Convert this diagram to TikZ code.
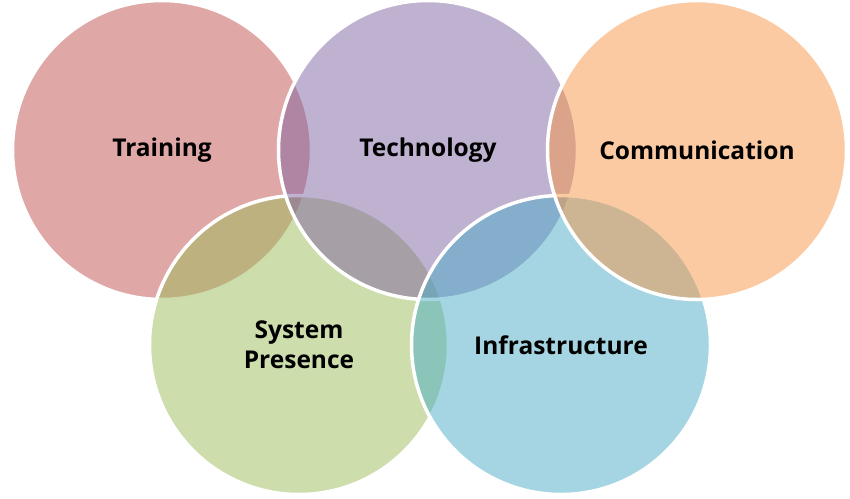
\documentclass[tikz,border=0pt]{standalone}
\usepackage{fontspec}
\setmainfont{Open Sans}
\usepackage{tikz}

\definecolor{trainred}{HTML}{C0504D}
\definecolor{techpurple}{HTML}{8064A2}
\definecolor{commorange}{HTML}{F79646}
\definecolor{sysgreen}{HTML}{9BBB59}
\definecolor{infraaqua}{HTML}{4BACC6}

\begin{document}
\begin{tikzpicture}[x=1pt,y=-1pt]
\tikzset{venn circle/.style={
    circle,
    draw=white,
    line width=3.5pt,
    minimum size=299pt,
    fill=#1,
    fill opacity=0.5,
    text opacity=1,
    align=center,
    inner sep=0pt,
    font=\fontsize{24.5}{30}\selectfont\bfseries
  },
  venn circle/.default=gray
}
\useasboundingbox (0,0) rectangle (850,498);
% drawn from back to front
\node[venn circle=trainred] (training) at (162,150) {Training};
\node[venn circle=sysgreen] (system) at (299,345) {System\\Presence};
\node[venn circle=techpurple] (technology) at (428,150) {Technology};
\node[venn circle=infraaqua] (infra) at (561,345) {Infrastructure};
\node[venn circle=commorange] (comm) at (697,150) {Communication};
\end{tikzpicture}
\end{document}
